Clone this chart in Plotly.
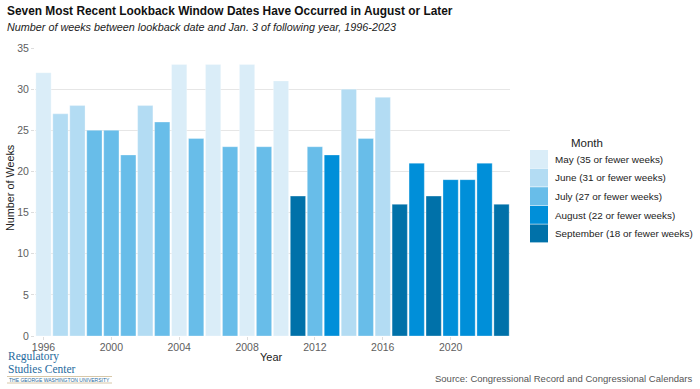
import plotly.graph_objects as go

years = list(range(1996, 2024))
weeks = [32, 27, 28, 25, 25, 22, 28, 26, 33, 24, 33, 23, 33, 23, 31,
         17, 23, 22, 30, 24, 29, 16, 21, 17, 19, 19, 21, 16]
months = ["May", "June", "June", "July", "July", "July", "June", "July", "May", "July",
          "May", "July", "May", "July", "May", "September", "July", "August", "June", "July",
          "June", "September", "August", "September", "August", "August", "August", "September"]

month_order = ["May", "June", "July", "August", "September"]
month_labels = ["May (35 or fewer weeks)", "June (31 or fewer weeks)", "July (27 or fewer weeks)",
                "August (22 or fewer weeks)", "September (18 or fewer weeks)"]
month_colors = ["#daedf8", "#b3dcf3", "#68bde9", "#008fd9", "#0071a9"]

y_ticks = [0, 5, 10, 15, 20, 25, 30, 35]
x_ticks = [1996, 2000, 2004, 2008, 2012, 2016, 2020]

FONT = "Liberation Sans, Arial, sans-serif"
SERIF = "Liberation Serif, DejaVu Serif, serif"

L, R, T, B = 35, 190, 48, 53
W, H = 700, 389
PW, PH = W - L - R, H - T - B

fig = go.Figure()
for m, c in zip(month_order, month_colors):
    xs = [y for y, mm in zip(years, months) if mm == m]
    ys = [w for w, mm in zip(weeks, months) if mm == m]
    fig.add_trace(go.Bar(x=xs, y=ys, name=m,
                         marker=dict(color=c, line=dict(color="rgba(255,255,255,0.5)", width=0.6)),
                         width=0.9, showlegend=False, hoverinfo="x+y"))

fig.update_layout(
    width=W, height=H,
    margin=dict(l=L, r=R, t=T, b=B, autoexpand=False),
    paper_bgcolor="white", plot_bgcolor="white",
    font=dict(family=FONT, color="#222222"),
    barmode="overlay",
    xaxis=dict(range=[1995.5, 2023.5], tickvals=x_ticks, ticktext=[str(t) for t in x_ticks],
               showgrid=False, zeroline=False, ticks="outside", ticklen=3, tickcolor="#dddddd",
               ticklabelstandoff=-2,
               tickfont=dict(size=10.5, color="#5e5e5e"), automargin=False),
    yaxis=dict(range=[0, 35], tickvals=y_ticks, showgrid=True, gridcolor="#e6e6e6", gridwidth=1,
               zeroline=False, ticks="outside", ticklen=3, tickcolor="#dddddd",
               tickfont=dict(size=10.5, color="#5e5e5e"), automargin=False),
)


def px_x(px):
    return (px - L) / PW


def px_y(py):
    return (H - B - py) / PH


def note(text, x, y, size, color="#222222", family=FONT, xanchor="left", angle=0):
    fig.add_annotation(text=text, xref="paper", yref="paper", x=px_x(x), y=px_y(y),
                       xanchor=xanchor, yanchor="middle", showarrow=False, textangle=angle,
                       font=dict(size=size, color=color, family=family))


# Titles
note("<b>Seven Most Recent Lookback Window Dates Have Occurred in August or Later</b>", 5, 11, 11.9, "#111111")
note("<i>Number of weeks between lookback date and Jan. 3 of following year, 1996-2023</i>", 5, 27, 10.8)

# Axis titles
note("Year", 271, 357, 11, xanchor="center")
note("Number of Weeks", 10, 188, 10.8, xanchor="center", angle=-90)

# Manual legend
note("Month", 587, 143, 11.5, xanchor="center")
row_h = 18.6
top0 = 150
for i, (lab, c) in enumerate(zip(month_labels, month_colors)):
    y0 = top0 + i * row_h
    fig.add_shape(type="rect", xref="paper", yref="paper",
                  x0=px_x(530), x1=px_x(548), y0=px_y(y0 + row_h - 0.6), y1=px_y(y0),
                  fillcolor=c, line=dict(width=0))
    note(lab, 553, y0 + row_h / 2, 9.9)

# Logo
note("Regulatory", 6, 356.5, 11.5, "#1f6a9e", SERIF)
note("Studies Center", 6, 368.8, 11.5, "#1f6a9e", SERIF)
for yy in (376.5, 383):
    fig.add_shape(type="line", xref="paper", yref="paper", x0=px_x(7), x1=px_x(112), y0=px_y(yy), y1=px_y(yy),
                  line=dict(color="#d8c8a8", width=1))
note("THE GEORGE WASHINGTON UNIVERSITY", 7, 379.8, 5, "#1f6a9e")

# Source
note("Source: Congressional Record and Congressional Calendars", 694, 378, 9.5, "#555555", xanchor="right")

fig.write_html("out.html", config={"displayModeBar": False},
               post_script="document.body.style.margin='0';document.body.style.padding='0';")
